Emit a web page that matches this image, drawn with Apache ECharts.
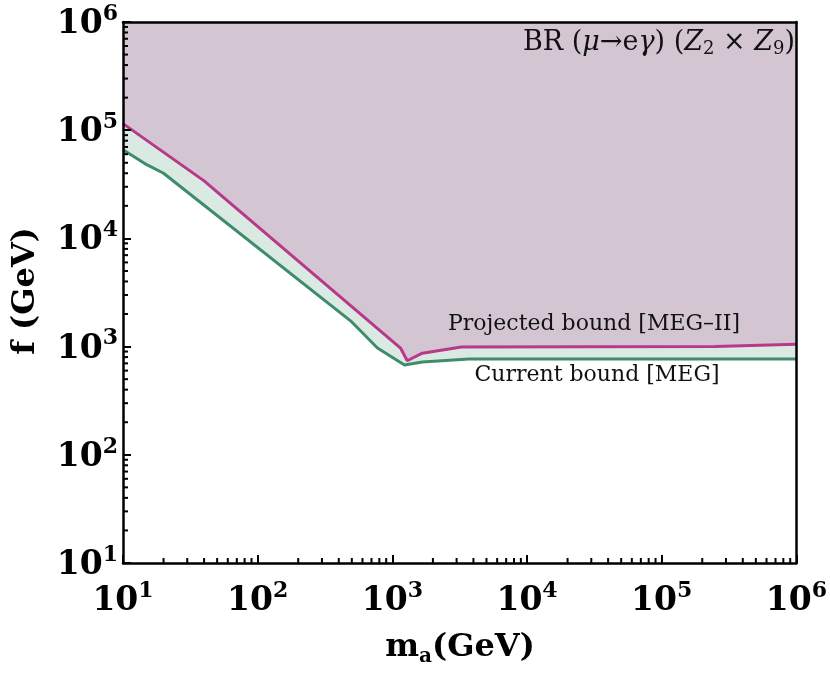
<!DOCTYPE html>
<html>
<head>
<meta charset="utf-8">
<script src="https://cdn.jsdelivr.net/npm/echarts@6/dist/echarts.min.js"></script>
<style>
    html, body { margin: 0; padding: 0; background: #fff; }
    #chart { width: 830px; height: 674px; }
</style>
</head>
<body>
<div id="chart"></div>
<script>
// projected bound [MEG-II]
var projMass = [10, 40, 1150, 1290, 1670, 3250, 250000, 1000000];
var projF = [115000, 34000, 970, 740, 870, 990, 1000, 1050];
// current bound [MEG]
var curMass = [10, 15, 20, 500, 775, 1230, 1670, 3700, 1000000];
var curF = [66000, 48000, 40000, 1690, 970, 676, 721, 767, 770];
// tick labels
var decadeTicks = [10, 100, 1000, 10000, 100000, 1000000];
var decadeLabels = ['1', '2', '3', '4', '5', '6'];
var minorSteps = [2, 3, 4, 5, 6, 7, 8, 9];

var serif = 'DejaVu Serif';

function pairs(xs, ys) {
    return xs.map(function (x, i) { return [x, ys[i]]; });
}

var minorData = [];
decadeTicks.slice(0, 5).forEach(function (d) {
    minorSteps.forEach(function (s) {
        minorData.push([d * s, 10, 0]);
        minorData.push([10, d * s, 1]);
    });
});

function tickLabel(value) {
    var i = decadeTicks.indexOf(Math.round(value));
    if (i < 0) return '';
    return '{b|10}{s|' + decadeLabels[i] + '}';
}

var labelRich = {
    b: { fontFamily: serif, fontWeight: 'bold', fontSize: 33, color: '#000', lineHeight: 38, verticalAlign: 'bottom' },
    s: { fontFamily: serif, fontWeight: 'bold', fontSize: 22, color: '#000', lineHeight: 38, verticalAlign: 'top', padding: [0, 0, 14, 0] }
};

var myChart = echarts.init(document.getElementById('chart'));
var option = {
    animation: false,
    grid: { left: 123, right: 31, top: 22, bottom: 111 },
    xAxis: [{
        type: 'log', logBase: 10, min: 10, max: 1000000, z: 10,
        axisLine: { lineStyle: { color: '#000', width: 2.5 } },
        axisTick: { inside: true, length: 8, lineStyle: { color: '#000', width: 2 } },
        splitLine: { show: false },
        axisLabel: { margin: 17, formatter: tickLabel, rich: labelRich }
    }, {
        type: 'log', logBase: 10, min: 10, max: 1000000, position: 'top', z: 10,
        axisLine: { lineStyle: { color: '#000', width: 2.5 } },
        axisTick: { show: false }, axisLabel: { show: false }, splitLine: { show: false }
    }],
    yAxis: [{
        type: 'log', logBase: 10, min: 10, max: 1000000, z: 10,
        axisLine: { lineStyle: { color: '#000', width: 2.5 } },
        axisTick: { inside: true, length: 8, lineStyle: { color: '#000', width: 2 } },
        splitLine: { show: false },
        axisLabel: { margin: 5, formatter: tickLabel, rich: labelRich }
    }, {
        type: 'log', logBase: 10, min: 10, max: 1000000, position: 'right', z: 10,
        axisLine: { lineStyle: { color: '#000', width: 2.5 } },
        axisTick: { show: false }, axisLabel: { show: false }, splitLine: { show: false }
    }],
    series: [{
        name: 'Current bound [MEG]',
        type: 'line',
        data: pairs(curMass, curF),
        symbol: 'none',
        z: 2,
        lineStyle: { color: '#3f8c6c', width: 3 },
        areaStyle: { origin: 'end', color: '#dbe9e3', opacity: 1 }
    }, {
        name: 'Projected bound [MEG-II]',
        type: 'line',
        data: pairs(projMass, projF),
        symbol: 'none',
        z: 3,
        lineStyle: { color: '#b8398a', width: 3 },
        areaStyle: { origin: 'end', color: '#d4c5d2', opacity: 1 }
    }, {
        type: 'custom',
        data: minorData,
        z: 11,
        silent: true,
        renderItem: function (params, api) {
            var p = api.coord([api.value(0), api.value(1)]);
            var horiz = api.value(2) == 1;
            return {
                type: 'line',
                shape: horiz ? { x1: p[0], y1: p[1], x2: p[0] + 5, y2: p[1] }
                             : { x1: p[0], y1: p[1], x2: p[0], y2: p[1] - 5 },
                style: { stroke: '#000', lineWidth: 2 }
            };
        }
    }],
    graphic: [{
        type: 'text', right: 35, top: 29, z: 20,
        style: {
            text: '{r|BR (}{i|μ}{r|→e}{i|γ}{r|) (}{i|Z}{sub|2}{r| × }{i|Z}{sub|9}{r|)}',
            rich: {
                r: { fontFamily: serif, fontSize: 27, fill: '#111', lineHeight: 32 },
                i: { fontFamily: serif, fontSize: 27, fontStyle: 'italic', fill: '#111', lineHeight: 32 },
                sub: { fontFamily: serif, fontSize: 18, fill: '#111', lineHeight: 32, verticalAlign: 'bottom' }
            }
        }
    }, {
        type: 'text', x: 594, y: 324, z: 20,
        style: { text: 'Projected bound [MEG–II]', font: '22px "DejaVu Serif"', fill: '#111', align: 'center', verticalAlign: 'middle' }
    }, {
        type: 'text', x: 597, y: 375, z: 20,
        style: { text: 'Current bound [MEG]', font: '22px "DejaVu Serif"', fill: '#111', align: 'center', verticalAlign: 'middle' }
    }, {
        type: 'text', x: 26, y: 291, rotation: Math.PI / 2, z: 20,
        style: { text: 'f (GeV)', font: 'bold 32px "DejaVu Serif"', fill: '#000', align: 'center', verticalAlign: 'middle' }
    }, {
        type: 'text', x: 460, y: 648, z: 20,
        style: {
            text: '{b|m}{s|a}{b|(GeV)}',
            align: 'center', verticalAlign: 'middle',
            rich: {
                b: { fontFamily: serif, fontWeight: 'bold', fontSize: 32, fill: '#000', lineHeight: 38 },
                s: { fontFamily: serif, fontWeight: 'bold', fontSize: 20, fill: '#000', lineHeight: 38, verticalAlign: 'bottom' }
            }
        }
    }]
};
myChart.setOption(option);
</script>
</body>
</html>
